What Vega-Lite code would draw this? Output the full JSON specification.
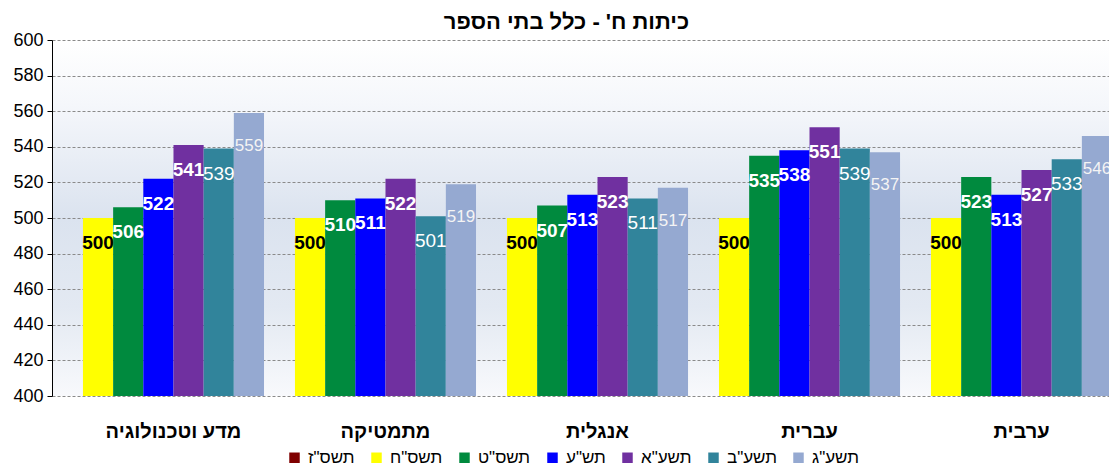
{
  "$schema": "https://vega.github.io/schema/vega-lite/v6.json",
  "autosize": {"type": "none"},
  "width": 1057,
  "height": 356,
  "padding": {"left": 52, "top": 40, "right": 0, "bottom": 75},
  "background": "white",
  "config": {
    "view": {
      "stroke": null,
      "fill": {
        "gradient": "linear",
        "x1": 0, "y1": 0, "x2": 0, "y2": 1,
        "stops": [
          {"offset": 0, "color": "#ffffff"},
          {"offset": 0.18, "color": "#f5f7fb"},
          {"offset": 0.5, "color": "#dbe3ef"},
          {"offset": 0.75, "color": "#e3e9f2"},
          {"offset": 1, "color": "#f8f9fc"}
        ]
      }
    }
  },
  "title": {
    "text": "כיתות ח' - כלל בתי הספר",
    "font": "Liberation Sans",
    "fontSize": 22,
    "fontWeight": "bold",
    "color": "black",
    "anchor": "middle",
    "offset": -3,
    "dx": -14
  },
  "data": {
    "values": [
      {"subject": "מדע וטכנולוגיה", "year": "תשס\"ח", "score": 500},
      {"subject": "מדע וטכנולוגיה", "year": "תשס\"ט", "score": 506},
      {"subject": "מדע וטכנולוגיה", "year": "תש\"ע", "score": 522},
      {"subject": "מדע וטכנולוגיה", "year": "תשע\"א", "score": 541},
      {"subject": "מדע וטכנולוגיה", "year": "תשע\"ב", "score": 539},
      {"subject": "מדע וטכנולוגיה", "year": "תשע\"ג", "score": 559},
      {"subject": "מתמטיקה", "year": "תשס\"ח", "score": 500},
      {"subject": "מתמטיקה", "year": "תשס\"ט", "score": 510},
      {"subject": "מתמטיקה", "year": "תש\"ע", "score": 511},
      {"subject": "מתמטיקה", "year": "תשע\"א", "score": 522},
      {"subject": "מתמטיקה", "year": "תשע\"ב", "score": 501},
      {"subject": "מתמטיקה", "year": "תשע\"ג", "score": 519},
      {"subject": "אנגלית", "year": "תשס\"ח", "score": 500},
      {"subject": "אנגלית", "year": "תשס\"ט", "score": 507},
      {"subject": "אנגלית", "year": "תש\"ע", "score": 513},
      {"subject": "אנגלית", "year": "תשע\"א", "score": 523},
      {"subject": "אנגלית", "year": "תשע\"ב", "score": 511},
      {"subject": "אנגלית", "year": "תשע\"ג", "score": 517},
      {"subject": "עברית", "year": "תשס\"ח", "score": 500},
      {"subject": "עברית", "year": "תשס\"ט", "score": 535},
      {"subject": "עברית", "year": "תש\"ע", "score": 538},
      {"subject": "עברית", "year": "תשע\"א", "score": 551},
      {"subject": "עברית", "year": "תשע\"ב", "score": 539},
      {"subject": "עברית", "year": "תשע\"ג", "score": 537},
      {"subject": "ערבית", "year": "תשס\"ח", "score": 500},
      {"subject": "ערבית", "year": "תשס\"ט", "score": 523},
      {"subject": "ערבית", "year": "תש\"ע", "score": 513},
      {"subject": "ערבית", "year": "תשע\"א", "score": 527},
      {"subject": "ערבית", "year": "תשע\"ב", "score": 533},
      {"subject": "ערבית", "year": "תשע\"ג", "score": 546}
    ]
  },
  "encoding": {
    "x": {
      "field": "subject",
      "type": "nominal",
      "sort": ["מדע וטכנולוגיה", "מתמטיקה", "אנגלית", "עברית", "ערבית"],
      "scale": {"range": [0, 1091], "paddingInner": 0.146, "paddingOuter": 0.146},
      "axis": {
        "title": null,
        "domain": false,
        "ticks": false,
        "grid": false,
        "labelAngle": 0,
        "labelFont": "Liberation Sans",
        "labelFontSize": 20,
        "labelFontWeight": "bold",
        "labelColor": "black",
        "labelPadding": 25
      }
    },
    "xOffset": {
      "field": "year",
      "type": "nominal",
      "scale": {
        "domain": ["תשס\"ח", "תשס\"ט", "תש\"ע", "תשע\"א", "תשע\"ב", "תשע\"ג"],
        "paddingInner": 0,
        "paddingOuter": 0
      }
    },
    "y": {
      "field": "score",
      "type": "quantitative",
      "scale": {"domain": [400, 600], "zero": false, "nice": false},
      "axis": {
        "title": null,
        "values": [400, 420, 440, 460, 480, 500, 520, 540, 560, 580, 600],
        "domainColor": "black",
        "tickColor": "black",
        "tickSize": 5,
        "labelFont": "Liberation Sans",
        "labelFontSize": 18,
        "labelColor": "black",
        "labelPadding": 4,
        "grid": true,
        "gridColor": "#8a8a8a",
        "gridDash": [3, 2],
        "gridWidth": 1
      }
    }
  },
  "layer": [
    {
      "mark": {"type": "bar", "clip": true},
      "encoding": {
        "color": {
          "field": "year",
          "type": "nominal",
          "scale": {
            "domain": ["תשס\"ז", "תשס\"ח", "תשס\"ט", "תש\"ע", "תשע\"א", "תשע\"ב", "תשע\"ג"],
            "range": ["#7f0000", "#ffff00", "#008a3e", "#0000ff", "#7030a0", "#31849b", "#95a9d1"]
          },
          "legend": {
            "title": null,
            "orient": "none",
            "legendX": 234,
            "legendY": 409,
            "direction": "horizontal",
            "columns": 7,
            "symbolType": "square",
            "symbolSize": 110,
            "symbolStrokeWidth": 0,
            "labelFont": "Liberation Sans",
            "labelFontSize": 17,
            "labelColor": "black",
            "labelOffset": 5,
            "columnPadding": 13,
            "labelLimit": 200
          }
        }
      }
    },
    {
      "transform": [{"filter": {"field": "year", "oneOf": ["תשס\"ח", "תשס\"ט", "תש\"ע", "תשע\"א"]}}],
      "mark": {"type": "text", "baseline": "top", "dy": 16, "fontSize": 19, "fontWeight": "bold", "font": "Liberation Sans"},
      "encoding": {
        "text": {"field": "score", "type": "quantitative"},
        "color": {"condition": {"test": "datum.year === 'תשס\"ח'", "value": "black"}, "value": "white"}
      }
    },
    {
      "transform": [{"filter": {"field": "year", "equal": "תשע\"ב"}}],
      "mark": {"type": "text", "baseline": "top", "dy": 16, "fontSize": 19, "font": "Liberation Sans", "color": "white"},
      "encoding": {
        "text": {"field": "score", "type": "quantitative"}
      }
    },
    {
      "transform": [{"filter": {"field": "year", "equal": "תשע\"ג"}}],
      "mark": {"type": "text", "baseline": "top", "dy": 25, "fontSize": 17, "font": "Liberation Sans", "color": "#f4f4f4"},
      "encoding": {
        "text": {"field": "score", "type": "quantitative"}
      }
    }
  ]
}
